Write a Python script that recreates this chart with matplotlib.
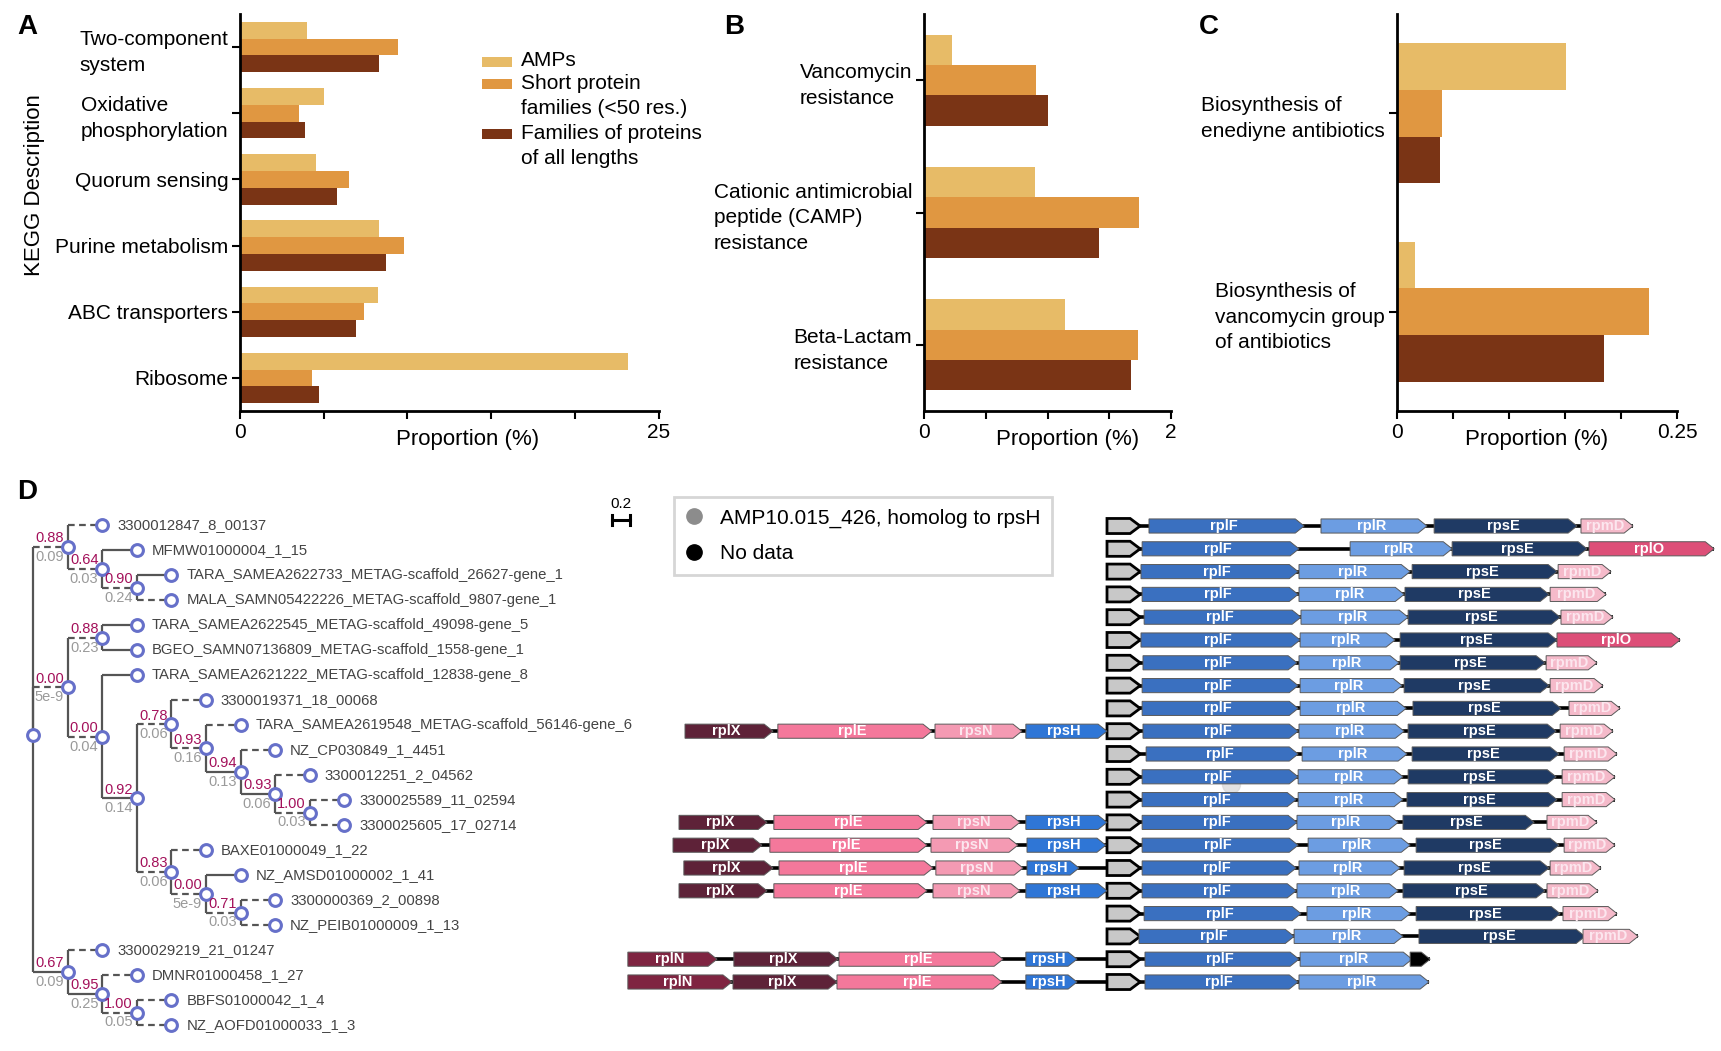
import numpy as np
import matplotlib
matplotlib.use("Agg")
import matplotlib.pyplot as plt
from matplotlib.patches import Polygon, Rectangle
from matplotlib.lines import Line2D

plt.rcParams['font.family'] = ['Liberation Sans', 'DejaVu Sans']

W, H = 1721, 1051
fig = plt.figure(figsize=(W / 100, H / 100), dpi=100)


def box(x0, y0, x1, y1):
    # pixel box -> figure fraction
    return [x0 / W, 1 - y1 / H, (x1 - x0) / W, (y1 - y0) / H]


# ---------------- data: panels A-C ----------------
series = ["AMPs", "Short protein\nfamilies (<50 res.)", "Families of proteins\nof all lengths"]
colors = ["#E7BB67", "#E09741", "#7A3415"]

kegg_a = ["Two-component\nsystem", "Oxidative\nphosphorylation", "Quorum sensing",
          "Purine metabolism", "ABC transporters", "Ribosome"]
amps_a = [4.0, 5.0, 4.55, 8.3, 8.25, 23.2]
short_a = [9.45, 3.55, 6.5, 9.8, 7.4, 4.3]
all_a = [8.3, 3.9, 5.8, 8.75, 6.9, 4.7]

kegg_b = ["Vancomycin\nresistance", "Cationic antimicrobial\npeptide (CAMP)\nresistance",
          "Beta-Lactam\nresistance"]
amps_b = [0.23, 0.9, 1.14]
short_b = [0.91, 1.74, 1.73]
all_b = [1.0, 1.42, 1.68]

kegg_c = ["Biosynthesis of\nenediyne antibiotics",
          "Biosynthesis of\nvancomycin group\nof antibiotics"]
amps_c = [0.151, 0.016]
short_c = [0.040, 0.225]
all_c = [0.038, 0.185]

# ---------------- data: tree (panel D) ----------------
leaf_names = [
    "3300012847_8_00137", "MFMW01000004_1_15",
    "TARA_SAMEA2622733_METAG-scaffold_26627-gene_1",
    "MALA_SAMN05422226_METAG-scaffold_9807-gene_1",
    "TARA_SAMEA2622545_METAG-scaffold_49098-gene_5",
    "BGEO_SAMN07136809_METAG-scaffold_1558-gene_1",
    "TARA_SAMEA2621222_METAG-scaffold_12838-gene_8",
    "3300019371_18_00068",
    "TARA_SAMEA2619548_METAG-scaffold_56146-gene_6",
    "NZ_CP030849_1_4451", "3300012251_2_04562", "3300025589_11_02594",
    "3300025605_17_02714", "BAXE01000049_1_22", "NZ_AMSD01000002_1_41",
    "3300000369_2_00898", "NZ_PEIB01000009_1_13", "3300029219_21_01247",
    "DMNR01000458_1_27", "BBFS01000042_1_4", "NZ_AOFD01000033_1_3",
]
children = {
    "root": ["n1", "n4", "n16"],
    "n1": [0, "n2"], "n2": [1, "n3"], "n3": [2, 3],
    "n4": ["n5", "n6"], "n5": [4, 5], "n6": [6, "n7"], "n7": ["n8", "n13"],
    "n8": [7, "n9"], "n9": [8, "n10"], "n10": [9, "n11"], "n11": [10, "n12"], "n12": [11, 12],
    "n13": [13, "n14"], "n14": [14, "n15"], "n15": [15, 16],
    "n16": [17, "n17"], "n17": [18, "n18"], "n18": [19, 20],
}
support = {
    "n1": ("0.88", "0.09"), "n2": ("0.64", "0.03"), "n3": ("0.90", "0.24"),
    "n4": ("0.00", "5e-9"), "n5": ("0.88", "0.23"), "n6": ("0.00", "0.04"),
    "n7": ("0.92", "0.14"), "n8": ("0.78", "0.06"), "n9": ("0.93", "0.16"),
    "n10": ("0.94", "0.13"), "n11": ("0.93", "0.06"), "n12": ("1.00", "0.03"),
    "n13": ("0.83", "0.06"), "n14": ("0.00", "5e-9"), "n15": ("0.71", "0.03"),
    "n16": ("0.67", "0.09"), "n17": ("0.95", "0.25"), "n18": ("1.00", "0.05"),
}
solid_edges = {"n16", 1, 2, 4, 5, 6, "n7", "n10", "n11", 14, "n17"}

# ---------------- data: gene neighbourhoods (bp, relative to anchor gene) ----------------
anchor = (0, 116)
neighborhoods = [
    [("rplF", 147, 690), ("rplR", 749, 1120), ("rpsE", 1145, 1645), ("rpmD", 1659, 1841)],
    [("rplF", 123, 672), ("rplR", 851, 1208), ("rpsE", 1208, 1680), ("rplO", 1687, 2125)],
    [("rplF", 119, 669), ("rplR", 672, 1061), ("rpsE", 1068, 1575), ("rpmD", 1579, 1764)],
    [("rplF", 123, 669), ("rplR", 672, 1040), ("rpsE", 1043, 1547), ("rpmD", 1551, 1747)],
    [("rplF", 130, 679), ("rplR", 679, 1054), ("rpsE", 1054, 1586), ("rpmD", 1589, 1771)],
    [("rplF", 119, 676), ("rplR", 676, 1008), ("rpsE", 1026, 1575), ("rplO", 1575, 2006)],
    [("rplF", 126, 665), ("rplR", 672, 1022), ("rpsE", 1026, 1533), ("rpmD", 1537, 1715)],
    [("rplF", 123, 669), ("rplR", 676, 1033), ("rpsE", 1040, 1547), ("rpmD", 1551, 1736)],
    [("rplF", 123, 669), ("rplR", 676, 1047), ("rpsE", 1071, 1589), ("rpmD", 1617, 1796)],
    [("rplX", -1477, -1169), ("rplE", -1152, -613), ("rpsN", -602, -298), ("rpsH", -284, 0),
     ("rplF", 126, 669), ("rplR", 672, 1040), ("rpsE", 1054, 1572), ("rpmD", 1586, 1771)],
    [("rplF", 137, 669), ("rplR", 683, 1050), ("rpsE", 1068, 1582), ("rpmD", 1600, 1785)],
    [("rplF", 123, 669), ("rplR", 669, 1036), ("rpsE", 1054, 1572), ("rpmD", 1593, 1778)],
    [("rplF", 123, 662), ("rplR", 669, 1036), ("rpsE", 1050, 1575), ("rpmD", 1593, 1778)],
    [("rplX", -1498, -1190), ("rplE", -1166, -630), ("rpsN", -609, -305), ("rpsH", -284, 0),
     ("rplF", 123, 665), ("rplR", 665, 1019), ("rpsE", 1036, 1495), ("rpmD", 1540, 1715)],
    [("rplX", -1519, -1208), ("rplE", -1180, -630), ("rpsN", -616, -312), ("rpsH", -280, -4),
     ("rplF", 123, 669), ("rplR", 704, 1061), ("rpsE", 1082, 1582), ("rpmD", 1600, 1778)],
    [("rplX", -1481, -1169), ("rplE", -1148, -609), ("rpsN", -599, -294), ("rpsH", -280, -98),
     ("rplF", 123, 662), ("rplR", 672, 1026), ("rpsE", 1040, 1547), ("rpmD", 1551, 1729)],
    [("rplX", -1498, -1190), ("rplE", -1166, -630), ("rpsN", -609, -305), ("rpsH", -284, 0),
     ("rplF", 123, 662), ("rplR", 665, 1019), ("rpsE", 1036, 1533), ("rpmD", 1540, 1719)],
    [("rplF", 130, 679), ("rplR", 700, 1061), ("rpsE", 1082, 1586), ("rpmD", 1596, 1785)],
    [("rplF", 112, 655), ("rplR", 655, 1036), ("rpsE", 1092, 1673), ("rpmD", 1666, 1859)],
    [("rplN", -1677, -1365), ("rplX", -1306, -942), ("rplE", -938, -364), ("rpsH", -284, -105),
     ("rplF", 133, 672), ("rplR", 676, 1068), ("nodata", 1061, 1131)],
    [("rplN", -1677, -1313), ("rplX", -1309, -945), ("rplE", -945, -368), ("rpsH", -284, -105),
     ("rplF", 133, 669), ("rplR", 672, 1127)],
]
amp_hit = (11.3, 434)  # faint marker for AMP10.015_426 (row, bp)

gene_colors = {
    "rplF": "#3A70C0", "rplR": "#6C9DE2", "rpsE": "#1F3A64", "rpmD": "#F5BACA",
    "rplO": "#DD4F78", "rpsH": "#2F76D6", "rpsN": "#F49AB3", "rplE": "#F4789B",
    "rplX": "#5E2238", "rplN": "#7F2441", "nodata": "#000000",
}

# ---------------- panels A-C ----------------
def bar_panel(pbox, cats, vals, xmax, nticks, bar_h, end_label, xlab_x):
    ax = fig.add_axes(box(*pbox))
    y = np.arange(len(cats))
    for j, v in enumerate(vals):
        ax.barh(y + (j - 1) * bar_h, v, height=bar_h, color=colors[j], lw=0)
    ax.set_ylim(len(cats) - 0.5, -0.5)
    ax.set_xlim(0, xmax)
    ax.set_yticks(y)
    ax.set_yticklabels(cats, fontsize=15, linespacing=1.45)
    for t in ax.get_yticklabels():
        t.set_multialignment("left")
    ticks = np.linspace(0, xmax, nticks)
    ax.set_xticks(ticks)
    ax.set_xticklabels(["0"] + [""] * (nticks - 2) + [end_label], fontsize=15)
    for s in ["top", "right"]:
        ax.spines[s].set_visible(False)
    for s in ["left", "bottom"]:
        ax.spines[s].set_linewidth(2)
    ax.tick_params(width=1.5, length=6)
    ax.tick_params(axis="y", pad=2.5)
    ax.tick_params(axis="x", pad=3)
    ax.set_xlabel("Proportion (%)", fontsize=16)
    ax.xaxis.set_label_coords(xlab_x, -0.045)
    return ax

axA = bar_panel((240, 14, 658.5, 411), kegg_a, [amps_a, short_a, all_a], 25, 6, 0.253, "25", 0.543)
axB = bar_panel((924, 14, 1171, 411), kegg_b, [amps_b, short_b, all_b], 2, 5, 0.23, "2", 0.583)
axC = bar_panel((1397, 14, 1677, 411), kegg_c, [amps_c, short_c, all_c], 0.25, 6, 0.235, "0.25", 0.5)

fig.text(35 / W, 1 - 185 / H, "KEGG Description", rotation=90, fontsize=16,
         ha="center", va="center")

# legend of panel A
leg_rows = [(57, 61), (79, 96), (129, 146)]
for (ptop, tc), lab, c in zip(leg_rows, series, colors):
    fig.add_artist(Rectangle((482 / W, 1 - (ptop + 10) / H), 30 / W, 10 / H,
                             transform=fig.transFigure, color=c, lw=0))
    fig.text(521 / W, 1 - tc / H, lab, fontsize=15, ha="left", va="center", linespacing=1.4)

for lab, (x, y) in zip("ABCD", [(27, 27), (734, 27), (1209, 27), (27, 492)]):
    fig.text(x / W, 1 - y / H, lab, fontsize=20, fontweight="bold", ha="center", va="center")

# ---------------- panel D: tree ----------------
axT = fig.add_axes(box(0, 500, 620, 1045))
axT.set_xlim(-33 / 34.6, 587 / 34.6)
axT.set_ylim(20.8, -1.0)
axT.axis("off")

depth, ypos = {}, {}


def layout(node, d):
    depth[node] = d
    if node in children:
        for ch in children[node]:
            layout(ch, d + 1)
        ypos[node] = np.mean([ypos[ch] for ch in children[node]])
    else:
        ypos[node] = node


layout("root", 0)
line_c = "#555555"
for par, chs in children.items():
    xp = depth[par]
    for ch in chs:
        axT.plot([xp, xp], [ypos[par], ypos[ch]], color=line_c, lw=1.6, zorder=1,
                 solid_capstyle="butt")
        ls = "-" if ch in solid_edges else (0, (3, 2))
        axT.plot([xp, depth[ch]], [ypos[ch], ypos[ch]], color=line_c, lw=1.6, ls=ls,
                 zorder=1, solid_capstyle="butt")

for node in depth:
    axT.plot(depth[node], ypos[node], "o", mfc="white", mec="#6670C9", ms=8.5, mew=2.2, zorder=3)
    if node in support:
        top, bot = support[node]
        axT.text(depth[node] - 0.11, ypos[node] - 0.34, top, color="#A3105A", fontsize=10.5,
                 ha="right", va="center", zorder=4)
        axT.text(depth[node] - 0.11, ypos[node] + 0.4, bot, color="#9A9A9A", fontsize=10.5,
                 ha="right", va="center", zorder=4)

for i, name in enumerate(leaf_names):
    axT.text(depth[i] + 0.43, i, name, fontsize=10.7, color="#444444", va="center", ha="left")

# scale bar
sy = 1 - 520 / H
fig.add_artist(Line2D([612 / W, 630 / W], [sy, sy], color="black", lw=2.2))
for sx in (612, 630):
    fig.add_artist(Line2D([sx / W, sx / W], [sy - 5 / H, sy + 5 / H], color="black", lw=2.2))
fig.text(621 / W, 1 - 504 / H, "0.2", fontsize=11, ha="center", va="center")

# ---------------- panel D: gene neighbourhoods ----------------
bp_px = 3.5
axG = fig.add_axes(box(560, 500, 1721, 1000))
axG.set_xlim((560 - 1107) * bp_px, (1721 - 1107) * bp_px)
axG.set_ylim((1000 - 526) / 22.8, (500 - 526) / 22.8)
axG.axis("off")
axG.patch.set_alpha(0)


def arrow(ax, s, e, y, fc, ec, lw, h=0.62, head=31, z=3):
    hl = min(head, e - s)
    pts = [(s, y - h / 2), (e - hl, y - h / 2), (e, y), (e - hl, y + h / 2), (s, y + h / 2)]
    ax.add_patch(Polygon(pts, closed=True, fc=fc, ec=ec, lw=lw, zorder=z))


axG.plot(amp_hit[1], amp_hit[0], "o", color="#d6d6d6", ms=13, alpha=0.7, zorder=1.5)

for r, genes in enumerate(neighborhoods):
    xs = [g[1] for g in genes] + [anchor[0]]
    xe = [g[2] for g in genes] + [anchor[1]]
    axG.plot([min(xs), max(xe)], [r, r], color="black", lw=2.6, zorder=1, solid_capstyle="butt")
    arrow(axG, anchor[0], anchor[1], r, "#C8C8C8", "black", 2.0, h=0.66, head=35)
    for name, s, e in genes:
        arrow(axG, s, e, r, gene_colors[name], "#5a5a5a", 0.7)
        if name != "nodata":
            tc = "#FCE6EE" if name in ("rpmD", "rpsN") else "white"
            axG.text((s + e) / 2 - 8, r, name, color=tc, fontsize=10.5, fontweight="bold",
                     ha="center", va="center", zorder=4)

handles = [Line2D([], [], marker="o", ls="", color="#8c8c8c", ms=11),
           Line2D([], [], marker="o", ls="", color="black", ms=11)]
leg = fig.legend(handles, ["AMP10.015_426, homolog to rpsH", "No data"], loc="upper left",
                 bbox_to_anchor=(674 / W, 1 - 497 / H), frameon=True, fancybox=False,
                 edgecolor="#cccccc", fontsize=15, borderpad=0.55, labelspacing=0.8,
                 handlelength=0.8, handletextpad=0.85, borderaxespad=0)
leg.get_frame().set_linewidth(2)

fig.savefig("out.png", dpi=100)
